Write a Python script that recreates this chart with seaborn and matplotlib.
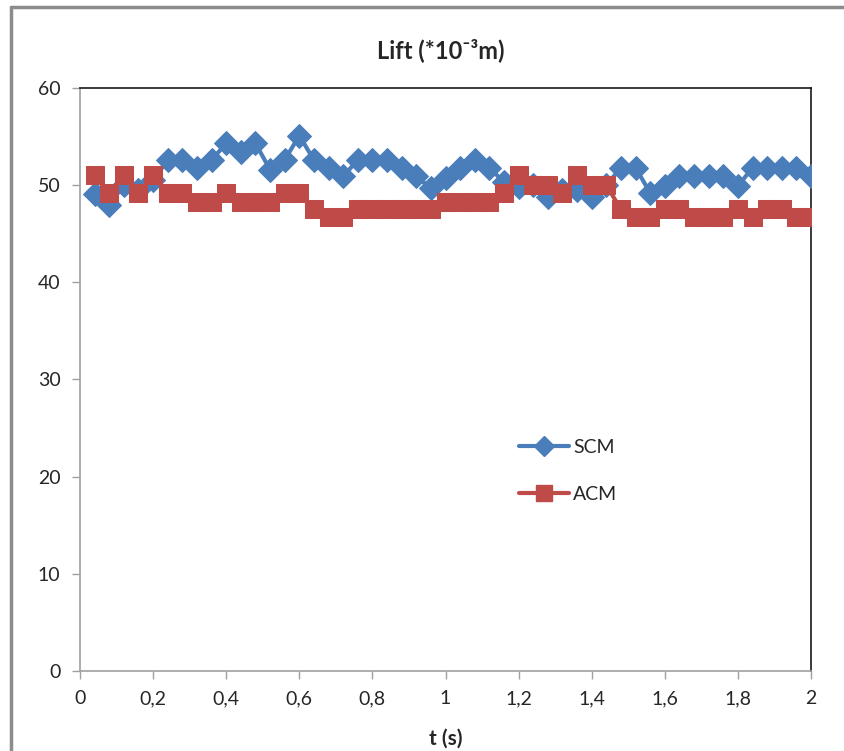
import numpy as np
import pandas as pd
import matplotlib
matplotlib.use("Agg")
import matplotlib.pyplot as plt
import seaborn as sns
from matplotlib.lines import Line2D

t = [0.04, 0.08, 0.12, 0.16, 0.20, 0.24, 0.28, 0.32, 0.36, 0.40,
     0.44, 0.48, 0.52, 0.56, 0.60, 0.64, 0.68, 0.72, 0.76, 0.80,
     0.84, 0.88, 0.92, 0.96, 1.00, 1.04, 1.08, 1.12, 1.16, 1.20,
     1.24, 1.28, 1.32, 1.36, 1.40, 1.44, 1.48, 1.52, 1.56, 1.60,
     1.64, 1.68, 1.72, 1.76, 1.80, 1.84, 1.88, 1.92, 1.96, 2.00]

scm = [49.1, 48.0, 50.0, 49.5, 50.5, 52.6, 52.6, 51.8, 52.6, 54.3,
       53.4, 54.3, 51.6, 52.6, 55.1, 52.6, 51.8, 50.9, 52.6, 52.6,
       52.6, 51.8, 50.9, 49.7, 50.7, 51.8, 52.6, 51.8, 50.3, 49.8,
       50.0, 48.8, 49.5, 49.5, 48.8, 50.0, 51.8, 51.8, 49.2, 49.9,
       50.9, 50.9, 50.9, 50.9, 49.9, 51.8, 51.8, 51.8, 51.8, 50.9]

acm = [51.0, 49.2, 51.0, 49.2, 51.0, 49.2, 49.2, 48.3, 48.3, 49.2,
       48.3, 48.3, 48.3, 49.2, 49.2, 47.5, 46.7, 46.7, 47.5, 47.5,
       47.5, 47.5, 47.5, 47.5, 48.3, 48.3, 48.3, 48.3, 49.2, 51.0,
       50.0, 50.0, 49.2, 51.0, 50.0, 50.0, 47.5, 46.7, 46.7, 47.5,
       47.5, 46.7, 46.7, 46.7, 47.5, 46.7, 47.5, 47.5, 46.7, 46.7]

series_names = ["SCM", "ACM"]
x_ticks = [0, 0.2, 0.4, 0.6, 0.8, 1.0, 1.2, 1.4, 1.6, 1.8, 2.0]
x_tick_labels = ["0", "0,2", "0,4", "0,6", "0,8", "1", "1,2", "1,4", "1,6", "1,8", "2"]
y_ticks = [0, 10, 20, 30, 40, 50, 60]

sns.set_style("white")
plt.rcParams['font.family'] = ['Lato', 'DejaVu Sans']

BLUE = "#4A7EBB"
RED = "#BE4B48"

fig = plt.figure(figsize=(8.44, 7.51), dpi=100)
ax = fig.add_axes([80/844, 1-671/751, (811-80)/844, (671-88)/751])

df_s = pd.DataFrame({"t": t, "v": scm})
df_a = pd.DataFrame({"t": t, "v": acm})

sns.lineplot(data=df_s, x="t", y="v", ax=ax, color=BLUE, lw=3,
             marker="D", markersize=12, markeredgecolor=BLUE,
             markerfacecolor=BLUE, label=series_names[0], zorder=3)
sns.lineplot(data=df_a, x="t", y="v", ax=ax, color=RED, lw=3,
             marker="s", markersize=13.5, markeredgecolor=RED,
             markerfacecolor=RED, label=series_names[1], zorder=4)

ax.set_xlim(0, 2)
ax.set_ylim(0, 60)
ax.set_xticks(x_ticks)
ax.set_xticklabels(x_tick_labels)
ax.set_yticks(y_ticks)
ax.tick_params(axis="both", which="major", labelsize=14, colors="#262626",
               length=6, width=1, direction="out", pad=8)
ax.tick_params(axis="both", color="#A0A0A0")
ax.tick_params(axis="x", bottom=True)
ax.tick_params(axis="y", left=True)

for side in ["left", "bottom"]:
    ax.spines[side].set_color("#A0A0A0")
    ax.spines[side].set_linewidth(1.2)
for side in ["top", "right"]:
    ax.spines[side].set_color("#1A1A1A")
    ax.spines[side].set_linewidth(1.2)
ax.spines["bottom"].set_zorder(5)

ax.set_xlabel("t (s)", fontsize=15, fontweight="bold", color="#262626", labelpad=15)
ax.set_ylabel("")
fig.text(441/844, 1 - 50/751, "Lift (*10⁻³m)",
         ha="center", va="center", fontsize=17, fontweight="bold", color="#262626")

handles = [Line2D([0], [0], color=BLUE, lw=3, marker="D", markersize=10),
           Line2D([0], [0], color=RED, lw=3, marker="s", markersize=12)]
leg = ax.legend(handles, series_names, loc="upper left",
                bbox_to_anchor=(509/844, 1-429/751), bbox_transform=fig.transFigure,
                frameon=False, fontsize=14, handlelength=2.6, labelspacing=1.55,
                handletextpad=0.2, borderpad=0)

# outer chart border (left and top visible)
fig.add_artist(Line2D([11/844, 11/844], [0, 1-7/751], transform=fig.transFigure,
                      color="#8C8C8C", lw=2.5))
fig.add_artist(Line2D([11/844, 1], [1-7/751, 1-7/751], transform=fig.transFigure,
                      color="#8C8C8C", lw=2.5))

fig.savefig("out.png", dpi=100)
